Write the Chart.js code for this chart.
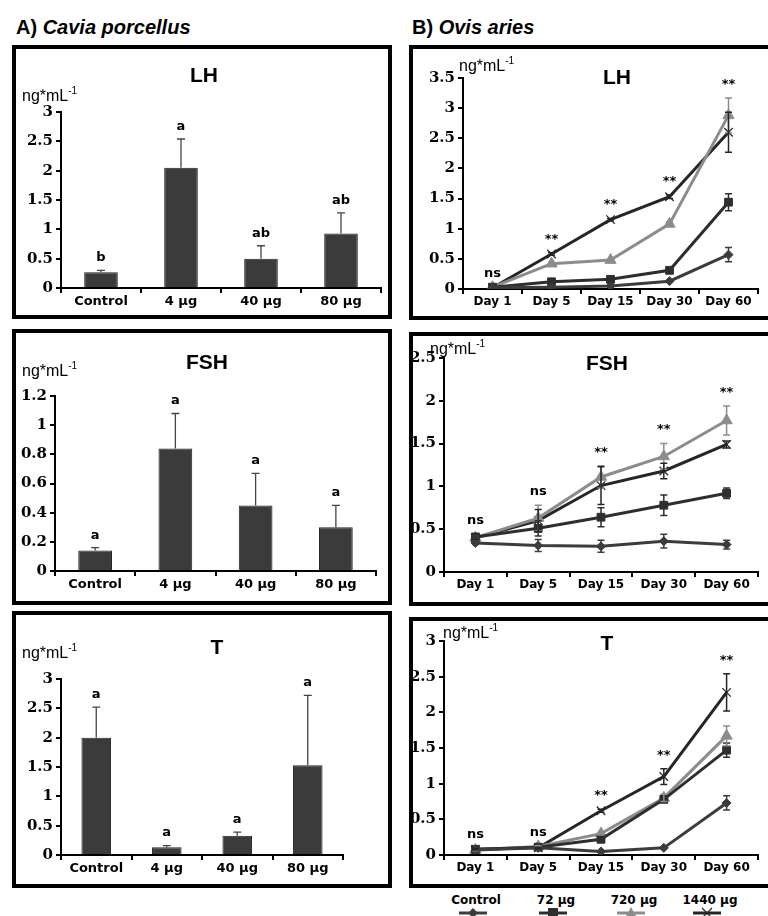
<!DOCTYPE html>
<html>
<head>
<meta charset="utf-8">
<script src="https://cdn.jsdelivr.net/npm/chart.js@4.4.0/dist/chart.umd.min.js"></script>
<style>
  body { margin: 0; background: #fff; width: 768px; height: 916px; overflow: hidden; position: relative;
         font-family: "Liberation Sans", Arial, sans-serif; }
  .head { position: absolute; top: 16px; font-weight: bold; font-size: 20px; line-height: 22px; }
  .box { position: absolute; border: 4px solid #000; box-sizing: border-box; pointer-events: none; z-index: 2; }
  canvas { position: absolute; }
  .title { position: absolute; font-weight: bold; font-size: 21px; transform: translate(-50%, -50%); z-index: 3; }
  .unit { position: absolute; font-size: 16px; transform: translateY(-50%); z-index: 3; white-space: nowrap; }
  .unit sup { font-size: 10px; }
  .leg { position: absolute; font: bold 12px "DejaVu Sans", sans-serif; transform: translate(-50%, -50%); }
</style>
</head>
<body>
<div class="head" style="left:16px">A) <i>Cavia porcellus</i></div>
<div class="head" style="left:412px">B) <i>Ovis aries</i></div>
<script>
// Cavia porcellus - bar panels
const doseLabels = ['Control', '4 µg', '40 µg', '80 µg'];
const lhGuinea = [0.27, 2.05, 0.50, 0.93];
const lhGuineaErr = [0.03, 0.49, 0.22, 0.35];
const lhGuineaSig = ['b', 'a', 'ab', 'ab'];
const fshGuinea = [0.14, 0.84, 0.45, 0.30];
const fshGuineaErr = [0.02, 0.24, 0.22, 0.15];
const fshGuineaSig = ['a', 'a', 'a', 'a'];
const tGuinea = [2.00, 0.13, 0.33, 1.53];
const tGuineaErr = [0.52, 0.03, 0.06, 1.19];
const tGuineaSig = ['a', 'a', 'a', 'a'];

// Ovis aries - line panels
const dayLabels = ['Day 1', 'Day 5', 'Day 15', 'Day 30', 'Day 60'];
const groupNames = ['Control', '72 µg', '720 µg', '1440 µg'];

const lhSheep = [
  [0.02, 0.03, 0.05, 0.13, 0.57],
  [0.03, 0.12, 0.16, 0.31, 1.44],
  [0.03, 0.42, 0.48, 1.08, 2.88],
  [0.02, 0.58, 1.15, 1.53, 2.60]
];
const lhSheepErr = [
  [0, 0, 0, 0.01, 0.12],
  [0, 0.01, 0.02, 0.02, 0.14],
  [0, 0.02, 0.02, 0.03, 0.29],
  [0, 0.02, 0.02, 0.03, 0.33]
];
const lhSheepSig = ['ns', '**', '**', '**', '**'];

const fshSheep = [
  [0.34, 0.31, 0.30, 0.36, 0.32],
  [0.41, 0.51, 0.64, 0.78, 0.92],
  [0.40, 0.63, 1.11, 1.35, 1.77],
  [0.40, 0.60, 1.01, 1.18, 1.49]
];
const fshSheepErr = [
  [0.02, 0.07, 0.07, 0.08, 0.05],
  [0.03, 0.09, 0.11, 0.12, 0.06],
  [0.02, 0.15, 0.13, 0.15, 0.17],
  [0.02, 0.13, 0.22, 0.09, 0.04]
];
const fshSheepSig = ['ns', 'ns', '**', '**', '**'];

const tSheep = [
  [0.07, 0.10, 0.05, 0.10, 0.73],
  [0.08, 0.11, 0.22, 0.78, 1.47],
  [0.07, 0.12, 0.30, 0.80, 1.67],
  [0.08, 0.10, 0.62, 1.10, 2.28]
];
const tSheepErr = [
  [0.01, 0.01, 0.01, 0.01, 0.10],
  [0.01, 0.01, 0.02, 0.04, 0.10],
  [0.01, 0.01, 0.02, 0.05, 0.14],
  [0.01, 0.01, 0.02, 0.11, 0.26]
];
const tSheepSig = ['ns', 'ns', '**', '**', '**'];

// line look for each group
const groupStyle = [
  { color: '#3c3c3c', point: 'rectRot', r: 4.5, pbw: 1 },
  { color: '#2e2e2e', point: 'rect', r: 5.5, pbw: 1 },
  { color: '#8c8c8c', point: 'triangle', r: 6.5, pbw: 1 },
  { color: '#262626', point: 'crossRot', r: 6, pbw: 1.2 }
];

// error bars: bars get the upper whisker only, lines get both
const errorBars = {
  id: 'errorBars',
  afterDatasetsDraw(chart) {
    const ctx = chart.ctx, ys = chart.scales.y;
    const isBar = chart.config.type === 'bar';
    chart.data.datasets.forEach((ds, i) => {
      if (!ds.errors) return;
      const meta = chart.getDatasetMeta(i);
      ctx.save();
      ctx.strokeStyle = isBar ? '#444' : ds.borderColor;
      ctx.lineWidth = isBar ? 1.3 : 1.5;
      meta.data.forEach((el, j) => {
        const e = ds.errors[j];
        if (!e) return;
        const v = ds.data[j];
        const top = ys.getPixelForValue(v + e);
        const bot = isBar ? el.y : ys.getPixelForValue(v - e);
        const cap = isBar ? 4 : 3.5;
        ctx.beginPath();
        ctx.moveTo(el.x, bot); ctx.lineTo(el.x, top);
        ctx.moveTo(el.x - cap, top); ctx.lineTo(el.x + cap, top);
        if (!isBar) { ctx.moveTo(el.x - cap, bot); ctx.lineTo(el.x + cap, bot); }
        ctx.stroke();
      });
      ctx.restore();
    });
  }
};

// significance letters above the highest whisker of each category
const sigMarks = {
  id: 'sigMarks',
  afterDatasetsDraw(chart, args, opts) {
    if (!opts.labels) return;
    const ctx = chart.ctx, ys = chart.scales.y;
    ctx.save();
    ctx.fillStyle = '#000';
    ctx.font = 'bold ' + (opts.size || 11) + 'px "DejaVu Sans"';
    ctx.textAlign = 'center';
    ctx.textBaseline = 'bottom';
    opts.labels.forEach((lab, j) => {
      let top = Infinity;
      chart.data.datasets.forEach(ds => {
        top = Math.min(top, ys.getPixelForValue(ds.data[j] + (ds.errors ? ds.errors[j] : 0)));
      });
      const x = chart.getDatasetMeta(0).data[j].x;
      ctx.fillText(lab, x, top - opts.gap);
    });
    ctx.restore();
  }
};

function makePanel(p) {
  const b = p.box;
  const box = document.createElement('div');
  box.className = 'box';
  Object.assign(box.style, { left: b[0] + 'px', top: b[1] + 'px', width: b[2] + 'px', height: b[3] + 'px' });
  document.body.appendChild(box);

  const left = b[0] + 4, top = b[1] + 4, w = b[2] - 8, h = b[3] - 8;
  const c = document.createElement('canvas');
  c.width = w; c.height = h;
  Object.assign(c.style, { left: left + 'px', top: top + 'px', width: w + 'px', height: h + 'px' });
  document.body.appendChild(c);

  const t = document.createElement('div');
  t.className = 'title'; t.textContent = p.title;
  t.style.left = p.titleAt[0] + 'px'; t.style.top = p.titleAt[1] + 'px';
  document.body.appendChild(t);

  const u = document.createElement('div');
  u.className = 'unit'; u.innerHTML = 'ng*mL<sup>-1</sup>';
  u.style.left = p.unitAt[0] + 'px'; u.style.top = p.unitAt[1] + 'px';
  document.body.appendChild(u);

  const a = p.area;
  new Chart(c, {
    type: p.type,
    data: { labels: p.labels, datasets: p.datasets },
    options: {
      responsive: false,
      animation: false,
      devicePixelRatio: 1,
      layout: { padding: { top: a[1] - top, right: left + w - a[2], left: 0, bottom: 0 } },
      plugins: {
        legend: { display: false },
        tooltip: { enabled: false },
        sigMarks: { labels: p.sig, gap: p.gap, size: p.sigSize }
      },
      scales: {
        x: {
          offset: true,
          grid: { offset: true, drawOnChartArea: false, color: '#000', lineWidth: 2, tickLength: 5 },
          border: { color: '#000', width: 2 },
          ticks: { color: '#000', padding: 1, maxRotation: 0, autoSkip: false,
                   font: { family: 'DejaVu Sans', weight: 'bold', size: p.xFont } },
          afterFit: s => { s.height = top + h - a[3]; }
        },
        y: {
          min: 0, max: p.max,
          grid: { drawOnChartArea: false, color: '#000', lineWidth: 2, tickLength: 5 },
          border: { color: '#000', width: 2 },
          ticks: { stepSize: p.step, color: '#000', padding: 3,
                   font: { family: 'DejaVu Serif', weight: 'bold', size: 15 },
                   callback: v => String(+v.toFixed(2)) },
          afterFit: s => { s.width = a[0] - left; }
        }
      }
    },
    plugins: [errorBars, sigMarks]
  });
}

function barSet(values, errs) {
  return [{
    data: values, errors: errs,
    backgroundColor: '#3b3b3b', borderColor: '#222', borderWidth: 1,
    barPercentage: 0.42, categoryPercentage: 1
  }];
}

function lineSets(values, errs) {
  return values.map((v, i) => {
    const s = groupStyle[i];
    return {
      label: groupNames[i], data: v, errors: errs[i],
      borderColor: s.color, backgroundColor: s.color, borderWidth: 3, tension: 0,
      pointStyle: s.point, pointRadius: s.r, pointBorderWidth: s.pbw,
      pointBackgroundColor: s.color, pointBorderColor: s.color
    };
  });
}

makePanel({ type: 'bar', labels: doseLabels, datasets: barSet(lhGuinea, lhGuineaErr), sig: lhGuineaSig,
  box: [12, 45, 380, 274], area: [61, 112, 381, 288], max: 3, step: 0.5, xFont: 13, gap: 6, sigSize: 13,
  title: 'LH', titleAt: [204, 75], unitAt: [22, 95] });
makePanel({ type: 'bar', labels: doseLabels, datasets: barSet(fshGuinea, fshGuineaErr), sig: fshGuineaSig,
  box: [12, 329, 380, 276], area: [55, 396, 376, 571], max: 1.2, step: 0.2, xFont: 13, gap: 6, sigSize: 13,
  title: 'FSH', titleAt: [207, 362], unitAt: [22, 370] });
makePanel({ type: 'bar', labels: doseLabels, datasets: barSet(tGuinea, tGuineaErr), sig: tGuineaSig,
  box: [12, 611, 380, 277], area: [61, 679, 343, 855], max: 3, step: 0.5, xFont: 13, gap: 6, sigSize: 13,
  title: 'T', titleAt: [217, 647], unitAt: [22, 652] });

makePanel({ type: 'line', labels: dayLabels, datasets: lineSets(lhSheep, lhSheepErr), sig: lhSheepSig,
  box: [409, 45, 366, 275], area: [463, 78, 758, 289], max: 3.5, step: 0.5, xFont: 12, gap: 7, sigSize: 13,
  title: 'LH', titleAt: [617, 77], unitAt: [459, 65] });
makePanel({ type: 'line', labels: dayLabels, datasets: lineSets(fshSheep, fshSheepErr), sig: fshSheepSig,
  box: [409, 332, 366, 274], area: [444, 358, 758, 572], max: 2.5, step: 0.5, xFont: 12, gap: 7, sigSize: 13,
  title: 'FSH', titleAt: [607, 363], unitAt: [430, 348] });
makePanel({ type: 'line', labels: dayLabels, datasets: lineSets(tSheep, tSheepErr), sig: tSheepSig,
  box: [409, 617, 366, 271], area: [444, 641, 758, 855], max: 3, step: 0.5, xFont: 12, gap: 7, sigSize: 13,
  title: 'T', titleAt: [607, 643], unitAt: [443, 632] });

// legend under the sheep panels
const legendX = [476, 556, 634, 710];
groupNames.forEach((n, i) => {
  const d = document.createElement('div');
  d.className = 'leg'; d.textContent = n;
  d.style.left = legendX[i] + 'px'; d.style.top = '900px';
  document.body.appendChild(d);
});
const lc = document.createElement('canvas');
lc.width = 768; lc.height = 14;
Object.assign(lc.style, { left: '0px', top: '906px' });
document.body.appendChild(lc);
const g = lc.getContext('2d');
groupStyle.forEach((s, i) => {
  const cx = legendX[i] - 3, cy = 7;
  g.strokeStyle = s.color; g.fillStyle = s.color; g.lineWidth = 3;
  g.beginPath(); g.moveTo(cx - 14, cy); g.lineTo(cx + 14, cy); g.stroke();
  g.beginPath();
  if (s.point === 'rectRot') { g.moveTo(cx, cy - 5); g.lineTo(cx + 5, cy); g.lineTo(cx, cy + 5); g.lineTo(cx - 5, cy); g.fill(); }
  else if (s.point === 'rect') { g.fillRect(cx - 5, cy - 5, 10, 10); }
  else if (s.point === 'triangle') { g.moveTo(cx, cy - 6); g.lineTo(cx + 6, cy + 5); g.lineTo(cx - 6, cy + 5); g.fill(); }
  else { g.lineWidth = 1.2; g.moveTo(cx - 5, cy - 5); g.lineTo(cx + 5, cy + 5); g.moveTo(cx + 5, cy - 5); g.lineTo(cx - 5, cy + 5); g.stroke(); }
});
</script>
</body>
</html>
